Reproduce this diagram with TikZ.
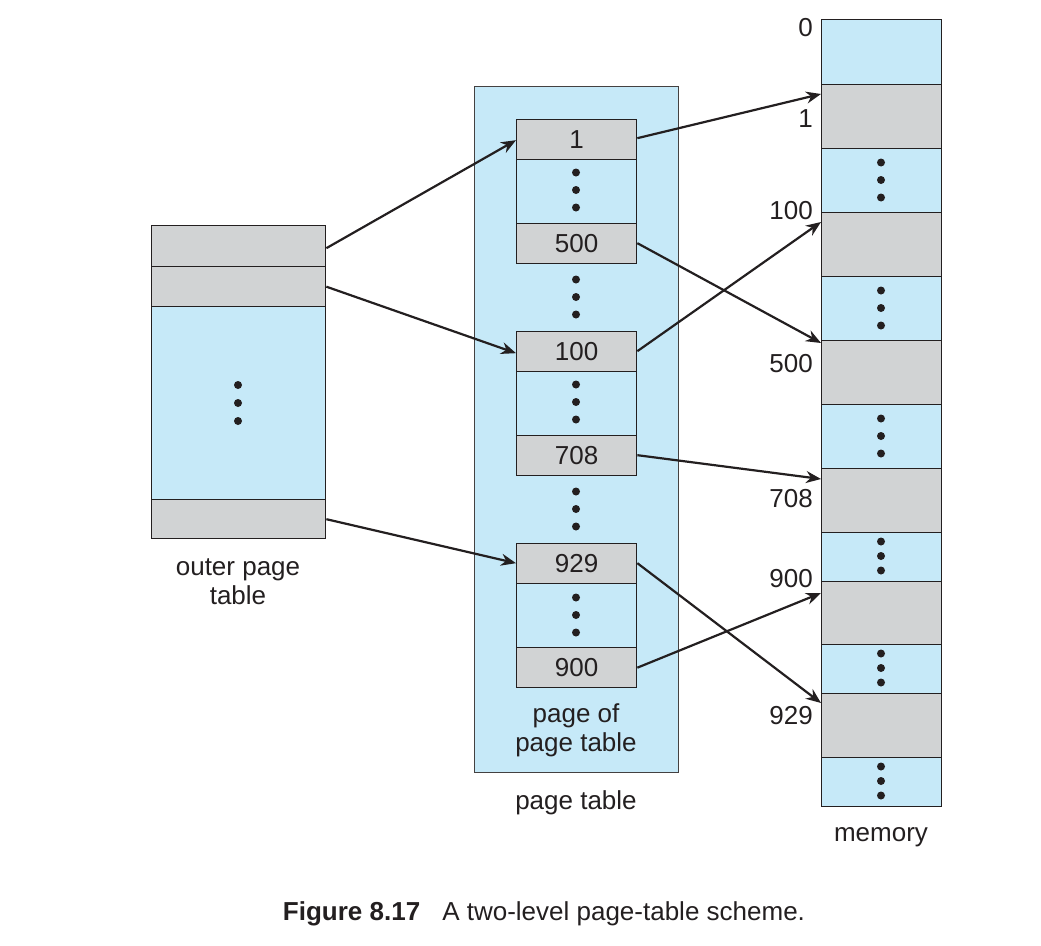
\documentclass[tikz,border=0pt]{standalone}
\usepackage{fontspec}
\setmainfont{Liberation Sans}
\usetikzlibrary{arrows.meta}
\definecolor{cellblue}{RGB}{198,233,248}
\definecolor{cellgray}{RGB}{209,211,212}
\definecolor{ink}{RGB}{35,31,32}
\tikzset{
  cell/.style={draw=ink, line width=1.35pt, inner sep=0pt, anchor=north west, font=\fontsize{26}{30}\selectfont, text=ink},
  bluecell/.style={cell, fill=cellblue},
  graycell/.style={cell, fill=cellgray},
  lbl/.style={inner sep=0pt, font=\fontsize{26}{29}\selectfont, text=ink},
  ptr/.style={draw=ink, line width=2.2pt, -{Stealth[length=15pt,width=12pt]}}
}
\newcommand{\vdotsat}[3]{% x, ycenter, spacing
  \fill[ink] (#1,#2-#3) circle (4pt) (#1,#2) circle (4pt) (#1,#2+#3) circle (4pt);}
\begin{document}
\begin{tikzpicture}[x=1pt,y=-1pt]
\useasboundingbox (0,0) rectangle (1041,945);
% outer page table
\node[graycell, minimum width=174pt, minimum height=41pt] (o1) at (151,225) {};
\node[graycell, minimum width=174pt, minimum height=40pt] (o2) at (151,266) {};
\node[bluecell, minimum width=174pt, minimum height=193pt] (o3) at (151,306) {};
\node[graycell, minimum width=174pt, minimum height=39pt] (o4) at (151,499) {};
\vdotsat{238}{403}{18}
\node[lbl, align=center] (olbl) at (238,582) {outer page\\table};
% page table container
\node[cell, fill=cellblue, draw=ink!85, line width=1.2pt, minimum width=204pt, minimum height=686pt] (pt) at (474,86) {};
\node[graycell, minimum width=120pt, minimum height=40pt] (p1) at (516,118.5) {1};
\node[bluecell, minimum width=120pt, minimum height=64pt] (pd1) at (516,158.5) {};
\node[graycell, minimum width=120pt, minimum height=40pt] (p500) at (516,222.5) {500};
\node[graycell, minimum width=120pt, minimum height=40pt] (p100) at (516,330.5) {100};
\node[bluecell, minimum width=120pt, minimum height=64pt] (pd2) at (516,370.5) {};
\node[graycell, minimum width=120pt, minimum height=40pt] (p708) at (516,434.5) {708};
\node[graycell, minimum width=120pt, minimum height=40pt] (p929) at (516,542.5) {929};
\node[bluecell, minimum width=120pt, minimum height=64.5pt] (pd3) at (516,582.5) {};
\node[graycell, minimum width=120pt, minimum height=40pt] (p900) at (516,647) {900};
\vdotsat{576}{190}{17.5}
\vdotsat{576}{297}{17.5}
\vdotsat{576}{402}{17.5}
\vdotsat{576}{509}{17.5}
\vdotsat{576}{615}{17.5}
\node[lbl, align=center] (potlbl) at (576,730) {page of\\page table};
\node[lbl] (ptlbl) at (576,803) {page table};
% memory
\node[bluecell, minimum width=120pt, minimum height=65pt] (m0) at (821,19) {};
\node[graycell, minimum width=120pt, minimum height=64pt] (m1) at (821,84) {};
\node[bluecell, minimum width=120pt, minimum height=64pt] (md1) at (821,148) {};
\node[graycell, minimum width=120pt, minimum height=64pt] (m100) at (821,212) {};
\node[bluecell, minimum width=120pt, minimum height=64pt] (md2) at (821,276) {};
\node[graycell, minimum width=120pt, minimum height=64pt] (m500) at (821,340) {};
\node[bluecell, minimum width=120pt, minimum height=64pt] (md3) at (821,404) {};
\node[graycell, minimum width=120pt, minimum height=64pt] (m708) at (821,468) {};
\node[bluecell, minimum width=120pt, minimum height=49pt] (md4) at (821,532) {};
\node[graycell, minimum width=120pt, minimum height=63pt] (m900) at (821,581) {};
\node[bluecell, minimum width=120pt, minimum height=49pt] (md5) at (821,644) {};
\node[graycell, minimum width=120pt, minimum height=64pt] (m929) at (821,693) {};
\node[bluecell, minimum width=120pt, minimum height=49pt] (md6) at (821,757) {};
\vdotsat{881}{180}{17.5}
\vdotsat{881}{308}{17.5}
\vdotsat{881}{436}{17.5}
\vdotsat{881}{556}{14.5}
\vdotsat{881}{668}{14.5}
\vdotsat{881}{781}{14.5}
\node[lbl, anchor=east] (l0) at (813,28) {0};
\node[lbl, anchor=east] (l1) at (813,119) {1};
\node[lbl, anchor=east] (l100) at (813,211) {100};
\node[lbl, anchor=east] (l500) at (813,364) {500};
\node[lbl, anchor=east] (l708) at (813,499) {708};
\node[lbl, anchor=east] (l900) at (813,579) {900};
\node[lbl, anchor=east] (l929) at (813,716) {929};
\node[lbl] (mlbl) at (881,837) {memory};
% caption
\node[lbl] (cap) at (544,914) {\textbf{Figure 8.17}\hspace{22pt}A two-level page-table scheme.};
% arrows
\draw[ptr] ([yshift=-2pt]o1.east) -- ([yshift=-1pt]p1.west);
\draw[ptr] ([yshift=0pt]o2.east) -- ([yshift=-2pt]p100.west);
\draw[ptr] ([yshift=0pt]o4.east) -- (p929.west);
\draw[ptr] ([yshift=1pt]p1.east) -- ([yshift=-10pt]m1.north west);
\draw[ptr] (p500.east) -- ([yshift=-3pt]m500.north west);
\draw[ptr] (p100.east) -- ([yshift=-10pt]m100.north west);
\draw[ptr] (p708.east) -- ([yshift=-11pt]m708.north west);
\draw[ptr] (p929.east) -- ([yshift=-10pt]m929.north west);
\draw[ptr] (p900.east) -- ([yshift=-12pt]m900.north west);
\end{tikzpicture}
\end{document}
